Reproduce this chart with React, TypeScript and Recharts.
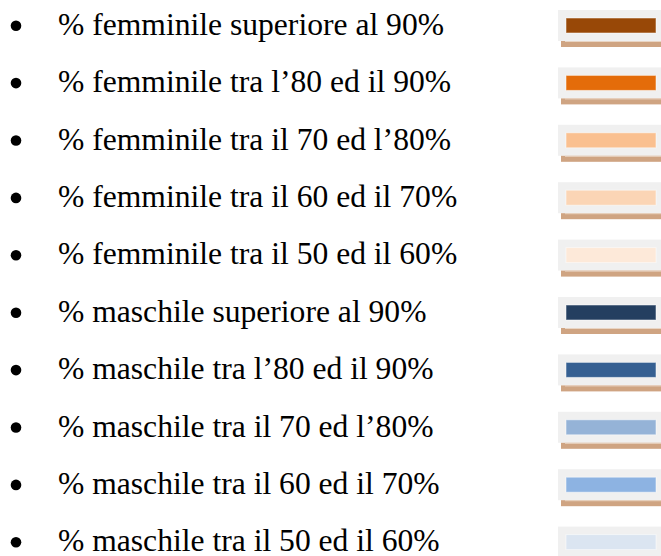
// Legenda: classi di percentuale femminile / maschile
import { BarChart, Bar, XAxis, YAxis, Cell } from "recharts";

const ETICHETTE = [
  "% femminile superiore al 90%",
  "% femminile tra l’80 ed il 90%",
  "% femminile tra il 70 ed l’80%",
  "% femminile tra il 60 ed il 70%",
  "% femminile tra il 50 ed il 60%",
  "% maschile superiore al 90%",
  "% maschile tra l’80 ed il 90%",
  "% maschile tra il 70 ed l’80%",
  "% maschile tra il 60 ed il 70%",
  "% maschile tra il 50 ed il 60%",
];

// ogni riga ha un campione di colore della stessa lunghezza
const LUNGHEZZE = [1, 1, 1, 1, 1, 1, 1, 1, 1, 1];

const COLORI = [
  "#984807",
  "#e46c0a",
  "#fac090",
  "#fbd5b5",
  "#fde9d9",
  "#243f60",
  "#366092",
  "#95b3d7",
  "#8db3e2",
  "#dbe5f1",
];

const dati = ETICHETTE.map((nome, i) => ({ nome, valore: LUNGHEZZE[i] }));

const FONT = '"Liberation Serif", "Times New Roman", "DejaVu Serif", serif';

// campione: riquadro grigio, ombra color sabbia, barra colorata
const Campione = (props: any) => {
  const { x, y, width, height, fill } = props;
  return (
    <g>
      <rect x={x - 8} y={y - 8} width={width + 30} height={height + 16} fill="#f0f0f0" />
      <rect x={x - 5} y={y + height + 8} width={width + 30} height={6} fill="#cfa482" />
      <rect x={x - 1} y={y + height + 8} width={width + 30} height={1} fill="#e9d5c4" />
      <rect x={x} y={y} width={width} height={height} fill={fill} stroke="#ffffff" strokeOpacity={0.5} />
    </g>
  );
};

const Voce = (props: any) => {
  const { y, payload } = props;
  return (
    <g>
      <circle cx={16} cy={y} r={5.3} fill="#000" />
      <text x={58} y={y + 9} fill="#000" style={{ fontFamily: FONT, fontSize: 31.6 }}>
        {payload.value}
      </text>
    </g>
  );
};

export default function App() {
  return (
    <div style={{ position: "absolute", left: 0, top: 0, background: "#fff", fontFamily: FONT }}>
      <BarChart
        width={661}
        height={556}
        data={dati}
        layout="vertical"
        margin={{ top: -3, right: 5, bottom: -15, left: 0 }}
        style={{ fontFamily: FONT }}
      >
        <XAxis type="number" domain={[0, 1]} hide />
        <YAxis
          type="category"
          dataKey="nome"
          width={566}
          axisLine={false}
          tickLine={false}
          interval={0}
          tick={<Voce />}
        />
        <Bar dataKey="valore" barSize={15} shape={<Campione />} isAnimationActive={false}>
          {dati.map((_, i) => (
            <Cell key={i} fill={COLORI[i]} />
          ))}
        </Bar>
      </BarChart>
    </div>
  );
}
